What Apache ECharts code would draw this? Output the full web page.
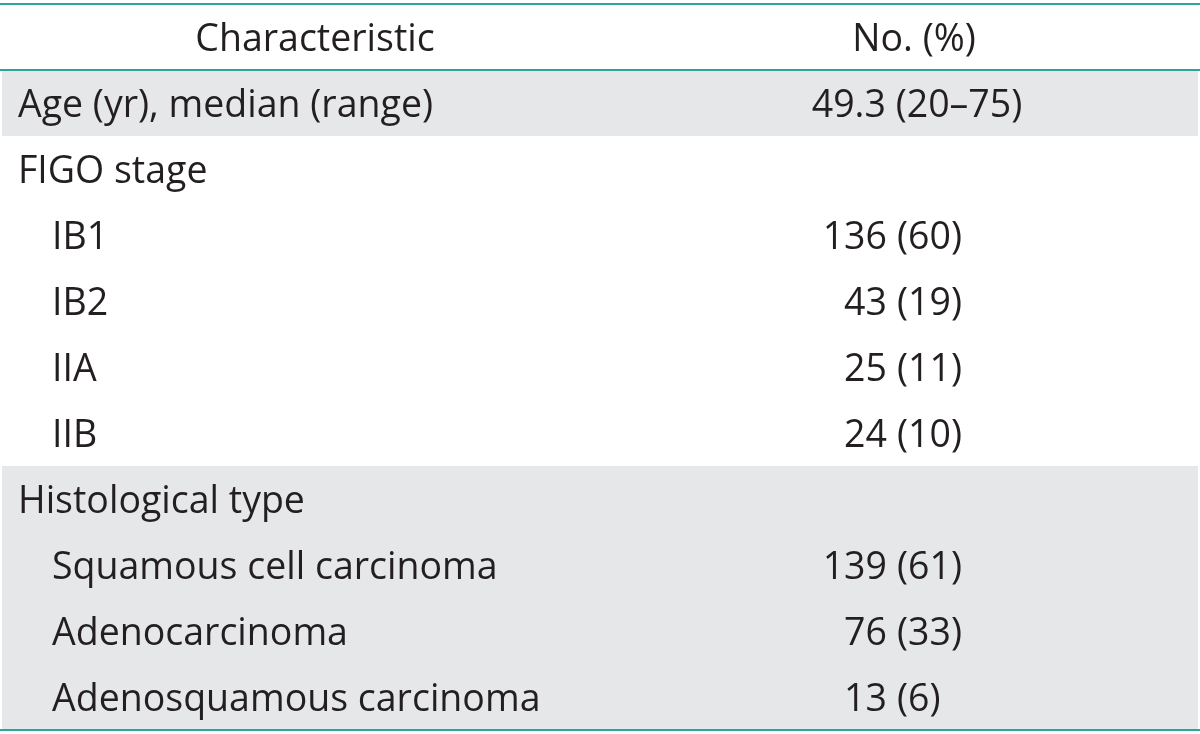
<!DOCTYPE html>
<html>
<head>
<meta charset="utf-8">
<script src="https://cdn.jsdelivr.net/npm/echarts@6/dist/echarts.min.js"></script>
<style>
html,body{margin:0;padding:0;background:#fff;}
#chart{width:1200px;height:734px;}
</style>
</head>
<body>
<div id="chart"></div>
<script>
// ---- data ----
const headers = ['Characteristic', 'No. (%)'];
const characteristics = ['Age (yr), median (range)', 'FIGO stage', 'IB1', 'IB2', 'IIA', 'IIB',
  'Histological type', 'Squamous cell carcinoma', 'Adenocarcinoma', 'Adenosquamous carcinoma'];
const levels = [0, 0, 1, 1, 1, 1, 0, 1, 1, 1];
const counts = [null, null, 136, 43, 25, 24, null, 139, 76, 13];
const percents = [null, null, 60, 19, 11, 10, null, 61, 33, 6];
const ageMedian = 49.3, ageMin = 20, ageMax = 75;
const shaded = [1, 0, 0, 0, 0, 0, 1, 1, 1, 1];

// ---- style ----
const FONT = '"Open Sans", sans-serif';
const FS = 37.5;
const TXT = '#231f20';
const TEAL = '#2aa69c';
const GRAY = '#e6e7e9';
const DY = 3;
const X_LABEL = 18, X_INDENT = 52, X_HEAD1 = 315, X_HEAD2 = 914, X_COUNT_END = 887, X_PCT = 897, X_AGE = 917;

const rows = ['header'].concat(characteristics);
const chart = echarts.init(document.getElementById('chart'), null, {renderer: 'canvas'});

function txt(x, y, s, align) {
  return {type: 'text', style: {x: x, y: y + DY, text: s, fill: TXT, fontSize: FS, fontFamily: FONT, align: align, verticalAlign: 'middle'}};
}

function renderItem(params, api) {
  const idx = api.value(0);
  const c = api.coord([0, idx]);
  const h = api.size([0, 1])[1];
  const x0 = api.coord([0, idx])[0], x1 = api.coord([1200, idx])[0];
  const X = v => api.coord([v, idx])[0];
  const yTop = c[1] - h / 2, yBot = c[1] + h / 2, yMid = c[1];
  const children = [];
  if (idx === 0) {
    children.push(txt(X(X_HEAD1), yMid, headers[0], 'center'));
    children.push(txt(X(X_HEAD2), yMid, headers[1], 'center'));
    children.push({type: 'line', shape: {x1: x0, y1: yTop, x2: x1, y2: yTop}, style: {stroke: TEAL, lineWidth: 2}});
    children.push({type: 'line', shape: {x1: x0, y1: yBot, x2: x1, y2: yBot}, style: {stroke: TEAL, lineWidth: 2}});
    return {type: 'group', children: children};
  }
  const r = idx - 1;
  if (shaded[r]) {
    children.push({type: 'rect', shape: {x: X(2), y: yTop + (idx === 1 ? 1 : 0), width: X(1198) - X(2), height: h - (idx === 1 ? 1 : 0) - (idx === rows.length - 1 ? 1 : 0)}, style: {fill: GRAY}});
  }
  children.push(txt(X(levels[r] ? X_INDENT : X_LABEL), yMid, characteristics[r], 'left'));
  if (r === 0) {
    children.push(txt(X(X_AGE), yMid, ageMedian.toFixed(1) + ' (' + ageMin + '\u2013' + ageMax + ')', 'center'));
  } else if (counts[r] != null) {
    children.push(txt(X(X_COUNT_END), yMid, String(counts[r]), 'right'));
    children.push(txt(X(X_PCT), yMid, '(' + percents[r] + ')', 'left'));
  }
  if (idx === rows.length - 1) {
    children.push({type: 'line', shape: {x1: x0, y1: yBot, x2: x1, y2: yBot}, style: {stroke: TEAL, lineWidth: 2}});
  }
  return {type: 'group', children: children};
}

chart.setOption({
  animation: false,
  grid: {left: 0, right: 0, top: 4, bottom: 4},
  xAxis: {type: 'value', min: 0, max: 1200, show: false},
  yAxis: {type: 'category', data: rows, inverse: true, show: false},
  series: [{
    type: 'custom',
    renderItem: renderItem,
    data: rows.map((_, i) => [i]),
    encode: {y: 0},
    clip: false
  }]
});
</script>
</body>
</html>
